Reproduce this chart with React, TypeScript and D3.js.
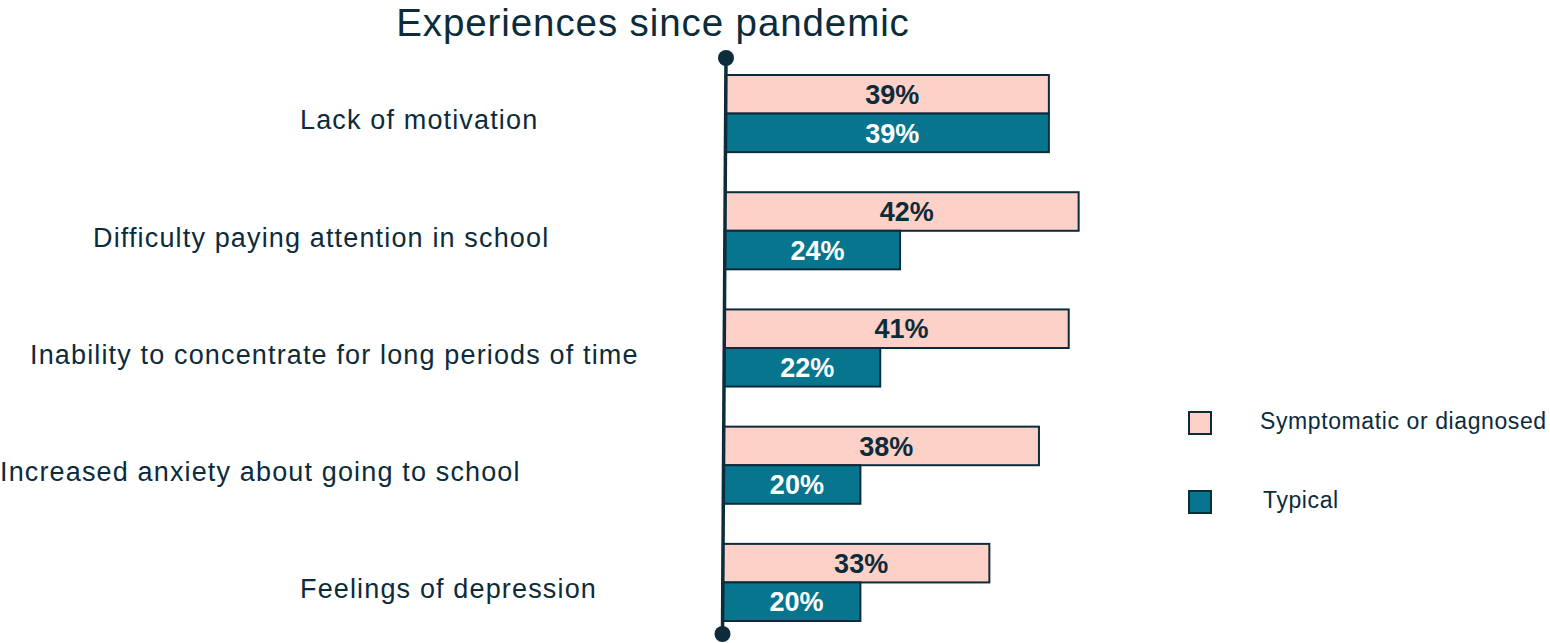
import React from "react";
import * as d3 from "d3";

const categories = [
  "Lack of motivation",
  "Difficulty paying attention in school",
  "Inability to concentrate for long periods of time",
  "Increased anxiety about going to school",
  "Feelings of depression",
];
const symptomatic = [39, 42, 41, 38, 33];
const typical = [39, 24, 22, 20, 20];
const seriesNames = ["Symptomatic or diagnosed", "Typical"];
const title = "Experiences since pandemic";

// label layout (left x of each category label)
const labelX = [300, 93, 30, 0, 300];

const W = 1550;
const H = 643;
const INK = "#0c2b3b";
const PINK = "#fdd1c7";
const TEAL = "#08758e";
const FONT = "'Liberation Sans', Arial, Helvetica, sans-serif";

export default function App() {
  const axisTop = { x: 726, y: 58 };
  const axisBot = { x: 722.5, y: 634 };
  const axisXAt = (y: number) =>
    axisTop.x + ((y - axisTop.y) / (axisBot.y - axisTop.y)) * (axisBot.x - axisTop.x);

  const y = d3.scaleBand<string>().domain(categories).range([75, 621]).paddingInner(0.342).paddingOuter(0);
  const sub = d3.scaleBand<string>().domain(seriesNames).range([0, y.bandwidth()]).padding(0);
  const x = d3.scaleLinear().domain([0, 45]).range([662, 662 + 9.92 * 45]);

  const colors = [PINK, TEAL];
  const textColors = [INK, "#ffffff"];
  const series = [symptomatic, typical];

  return (
    <svg width={W} height={H} style={{ position: "absolute", left: 0, top: 0, background: "#fff" }} fontFamily={FONT}>
      <text x={653} y={35.5} textAnchor="middle" fontSize={38.5} letterSpacing={0.9} fill={INK}>
        {title}
      </text>

      {categories.map((c, i) => (
        <g key={c}>
          {series.map((vals, s) => {
            const by = (y(c) as number) + (sub(seriesNames[s]) as number);
            const bh = sub.bandwidth();
            const x0 = axisXAt(by + bh / 2);
            const x1 = x(vals[i]);
            return (
              <g key={s}>
                <rect x={x0} y={by} width={x1 - x0} height={bh} fill={colors[s]} stroke={INK} strokeWidth={2} />
                <text
                  x={(x0 + x1) / 2 + 5}
                  y={by + bh / 2}
                  dy="0.36em"
                  textAnchor="middle"
                  fontSize={27}
                  fontWeight="bold"
                  fill={textColors[s]}
                >
                  {vals[i]}%
                </text>
              </g>
            );
          })}
          <text
            x={labelX[i]}
            y={(y(c) as number) + y.bandwidth() / 2 + 6}
            dy="0.36em"
            fontSize={27}
            letterSpacing={1.15}
            fill={INK}
          >
            {c}
          </text>
        </g>
      ))}

      <line x1={axisTop.x} y1={axisTop.y} x2={axisBot.x} y2={axisBot.y} stroke={INK} strokeWidth={3.5} />
      <circle cx={axisTop.x} cy={axisTop.y} r={8} fill={INK} />
      <circle cx={axisBot.x} cy={axisBot.y} r={8} fill={INK} />

      {seriesNames.map((n, s) => (
        <g key={n} transform={`translate(1188, ${s === 0 ? 411 : 490})`}>
          <rect x={1} y={1} width={22} height={22} fill={colors[s]} stroke={INK} strokeWidth={2} />
          <text x={s === 0 ? 72 : 75} y={10} dy="0.36em" fontSize={23} letterSpacing={0.6} fill={INK}>
            {n}
          </text>
        </g>
      ))}
    </svg>
  );
}
